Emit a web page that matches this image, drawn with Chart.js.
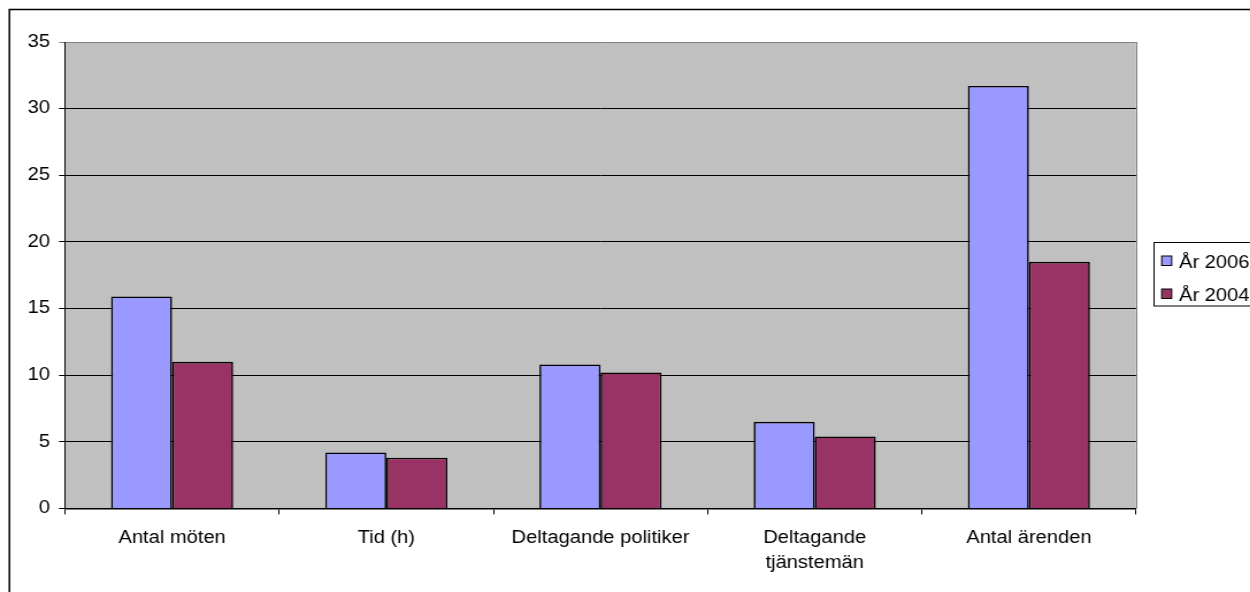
<!DOCTYPE html>
<html>
<head>
<meta charset="utf-8">
<script src="https://cdn.jsdelivr.net/npm/chart.js@4/dist/chart.umd.min.js"></script>
<style>
  html, body { margin: 0; padding: 0; background: #ffffff; overflow: hidden; }
  /* the drawing is laid out on a narrower canvas and widened to the page width */
  #wrap { width: 1250px; height: 592px; overflow: hidden; }
  #chart { display: block; transform: scaleX(1.15); transform-origin: 0 0; }
</style>
</head>
<body>
<div id="wrap"><canvas id="chart" width="1087" height="592"></canvas></div>
<script>
// Categories and series
const categories = ['Antal möten', 'Tid (h)', 'Deltagande politiker', ['Deltagande', 'tjänstemän'], 'Antal ärenden'];
const seriesNames = ['År 2006', 'År 2004'];
const values2006 = [15.9, 4.2, 10.8, 6.5, 31.7];
const values2004 = [11.0, 3.8, 10.2, 5.4, 18.5];
const seriesColors = ['#9999FF', '#993366'];

// Value axis
const yMin = 0;
const yMax = 35;
const yStep = 5;

const SX = 1.15;               // horizontal widening applied by CSS
const W = 1087, H = 592;
const plotLeft = 65 / SX, plotRight = 1136 / SX, plotTop = 42, plotBottom = 508.4;
const FONT = '"Liberation Sans", Arial, sans-serif';

const frameAndLegend = {
  id: 'frameAndLegend',
  beforeDraw(chart) {
    const ctx = chart.ctx, a = chart.chartArea;
    ctx.save();
    ctx.fillStyle = '#ffffff';
    ctx.fillRect(0, 0, W, H);
    ctx.fillStyle = '#C0C0C0';
    ctx.fillRect(a.left, a.top, a.right - a.left, a.bottom - a.top);
    // outer frame of the chart object
    ctx.strokeStyle = '#000000';
    ctx.lineWidth = 1.5;
    ctx.strokeRect(8.2, 9.5, W + 20, H + 20);
    ctx.restore();
  },
  afterDraw(chart) {
    const ctx = chart.ctx, a = chart.chartArea;
    ctx.save();
    // plot area right edge
    ctx.strokeStyle = '#808080';
    ctx.lineWidth = 1;
    ctx.beginPath();
    ctx.moveTo(Math.round(a.right) + 0.5, a.top);
    ctx.lineTo(Math.round(a.right) + 0.5, a.bottom);
    ctx.stroke();

    // legend box
    const lx = 1154 / SX, ly = 242.5, lh = 63.5;
    ctx.strokeStyle = '#000000';
    ctx.lineWidth = 1;
    ctx.fillStyle = '#ffffff';
    ctx.fillRect(lx, ly, W - lx + 10, lh);
    ctx.strokeRect(Math.round(lx) + 0.5, ly, W - lx + 10, lh);

    const rows = [256, 289];
    chart.data.datasets.forEach((ds, i) => {
      const sy = rows[i];
      ctx.fillStyle = ds.backgroundColor;
      ctx.fillRect(1161.7 / SX, sy, 10 / SX, 9.5);
      ctx.strokeStyle = '#000000';
      ctx.lineWidth = 1;
      ctx.strokeRect(1161.7 / SX, sy, 10 / SX, 9.5);
      ctx.fillStyle = '#000000';
      ctx.font = '17.5px ' + FONT;
      ctx.textBaseline = 'alphabetic';
      ctx.textAlign = 'left';
      ctx.fillText(ds.label, 1179 / SX, sy + 11.5);
    });
    ctx.restore();
  }
};

new Chart(document.getElementById('chart'), {
  type: 'bar',
  data: {
    labels: categories,
    datasets: [
      { label: seriesNames[0], data: values2006, backgroundColor: seriesColors[0], borderColor: '#000000', borderWidth: 1.6 },
      { label: seriesNames[1], data: values2004, backgroundColor: seriesColors[1], borderColor: '#000000', borderWidth: 1.6 }
    ]
  },
  options: {
    responsive: false,
    devicePixelRatio: 1,
    animation: false,
    layout: { padding: { left: 0, top: plotTop, right: W - plotRight, bottom: 0 } },
    datasets: { bar: { categoryPercentage: 0.57, barPercentage: 1.0 } },
    plugins: { legend: { display: false }, tooltip: { enabled: false } },
    scales: {
      x: {
        offset: true,
        afterFit(scale) { scale.height = H - plotBottom; },
        grid: { display: true, drawOnChartArea: false, drawTicks: true, tickLength: 6, offset: true, color: '#000000', lineWidth: 1 },
        border: { display: true, color: '#000000', width: 1.5 },
        ticks: { color: '#000000', padding: 11, maxRotation: 0, autoSkip: false, font: { family: FONT, size: 17.5, lineHeight: 1.43 } }
      },
      y: {
        min: yMin,
        max: yMax,
        afterFit(scale) { scale.width = plotLeft; },
        grid: {
          drawTicks: true,
          tickLength: 6 / SX,
          lineWidth: 1,
          color: (c) => (c.tick && c.tick.value === yMax) ? '#808080' : '#000000'
        },
        border: { display: true, color: '#000000', width: 1 },
        ticks: { stepSize: yStep, color: '#000000', padding: 7.8, font: { family: FONT, size: 17.5 } }
      }
    }
  },
  plugins: [frameAndLegend]
});
</script>
</body>
</html>
